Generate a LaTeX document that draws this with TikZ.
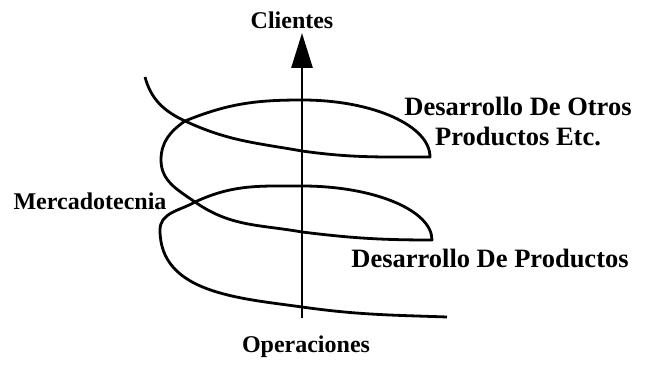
\documentclass[tikz,border=0pt]{standalone}
\usepackage{fontspec}
\setmainfont{Liberation Serif}
\usepackage{tikz}
\usetikzlibrary{arrows.meta}

\begin{document}
\begin{tikzpicture}[
        x=1pt, y=1pt,
        spiral/.style={line width=2.8pt, black, line join=round},
        axisline/.style={-{Triangle[length=35pt, width=21pt]}, line width=2.8pt, black},
        lbl/.style={font=\fontsize{24}{30}\selectfont\bfseries, inner sep=0pt, align=center},
        biglbl/.style={lbl, font=\fontsize{26.5}{30}\selectfont\bfseries}
      ]
        \useasboundingbox (0,0) rectangle (645,364);

        % Nodes
        \node [lbl] (clientes) at (292,344) {Clientes};
        \node [lbl] (operaciones) at (306,17) {Operaciones};
        \node [lbl] (mercadotecnia) at (90,163) {Mercadotecnia};
        \node [biglbl] (otros) at (518,243) {Desarrollo De Otros\\Productos Etc.};
        \node [biglbl] (productos) at (490,106) {Desarrollo De Productos};

        \coordinate (axisbot) at (302,46);
        \coordinate (axistop) at (302,331);

        % Axis
        \draw [axisline] (axisbot) -- (axistop);

        % Spiral
        \draw [spiral] (145,287) to[out=-75, in=155] (185,243) to[out=-25, in=170] (302,213)
              to[out=-8, in=180] (430,207)
              arc[start angle=0, end angle=90, x radius=128, y radius=57]
              to[out=180, in=22] (185,243) to[out=215, in=90] (161,204)
              to[out=-90, in=145] (195,162) to[out=-35, in=170] (302,132)
              to[out=-7, in=180] (432,124)
              arc[start angle=0, end angle=90, x radius=130, y radius=54]
              to[out=180, in=25] (195,162) to[out=210, in=90] (160,134)
              to[out=-90, in=172] (302,57) to[out=-8, in=178] (447,47);
      \end{tikzpicture}
\end{document}
